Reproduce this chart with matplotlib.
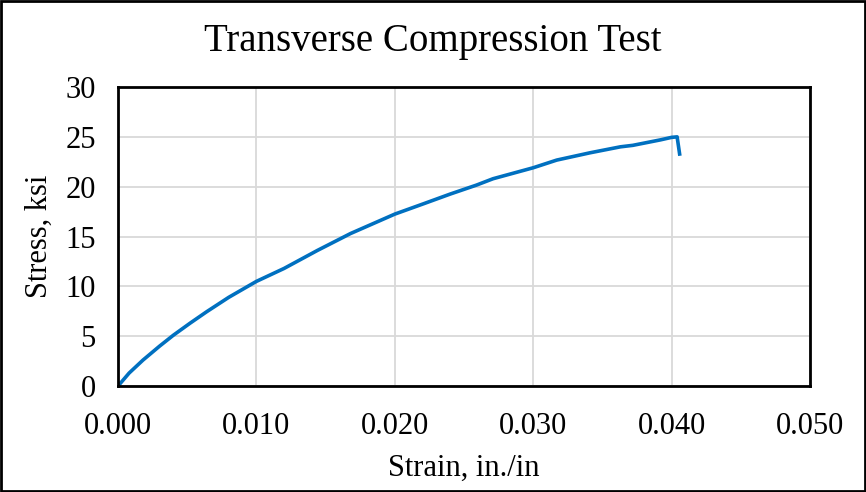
import matplotlib
matplotlib.use("Agg")
import matplotlib.pyplot as plt
from matplotlib.patches import Rectangle
from matplotlib.ticker import FormatStrFormatter

# values
strain = [0.0, 0.0008, 0.0018, 0.0030, 0.0040, 0.0052, 0.0064, 0.0080, 0.0095, 0.0100,
          0.0120, 0.0144, 0.0168, 0.0200, 0.0221, 0.0240, 0.0259, 0.0271, 0.0300,
          0.0317, 0.0341, 0.0363, 0.0372, 0.0392, 0.0400, 0.0404, 0.0406]
stress = [0.0, 1.3, 2.6, 4.0, 5.1, 6.3, 7.45, 8.9, 10.1, 10.5,
          11.8, 13.6, 15.3, 17.25, 18.3, 19.26, 20.16, 20.8, 21.9,
          22.67, 23.4, 24.0, 24.15, 24.7, 24.95, 25.0, 23.1]

x_ticks = [0.0, 0.01, 0.02, 0.03, 0.04, 0.05]
y_ticks = [0, 5, 10, 15, 20, 25, 30]

plt.rcParams['font.family'] = ['Liberation Serif', 'DejaVu Serif']

fig = plt.figure(figsize=(8.66, 4.92), dpi=100)
ax = fig.add_axes([0.1363, 0.2154, 0.799, 0.6077])

ax.plot(strain, stress, color='#0070C0', linewidth=2.6, solid_capstyle='butt')

ax.set_xlim(0, 0.05)
ax.set_ylim(0, 30)
ax.set_xticks(x_ticks)
ax.set_yticks(y_ticks)
ax.xaxis.set_major_formatter(FormatStrFormatter('%.3f'))
ax.tick_params(axis='both', length=0, labelsize=22)
ax.tick_params(axis='x', pad=19)
ax.tick_params(axis='y', pad=16)
ax.grid(True, color='#D9D9D9', linewidth=1.3)
ax.set_axisbelow(True)
for s in ax.spines.values():
    s.set_linewidth(2)
    s.set_color('black')

ax.set_xlabel('Strain, in./in', fontsize=22, labelpad=9)
ax.set_ylabel('Stress, ksi', fontsize=22, labelpad=8)
fig.suptitle('Transverse Compression Test', fontsize=28, y=0.954)

fig.add_artist(Rectangle((0.001, 0.002), 0.998, 0.996, transform=fig.transFigure,
                         fill=False, edgecolor='black', linewidth=2))

fig.savefig('out.png', dpi=100)
